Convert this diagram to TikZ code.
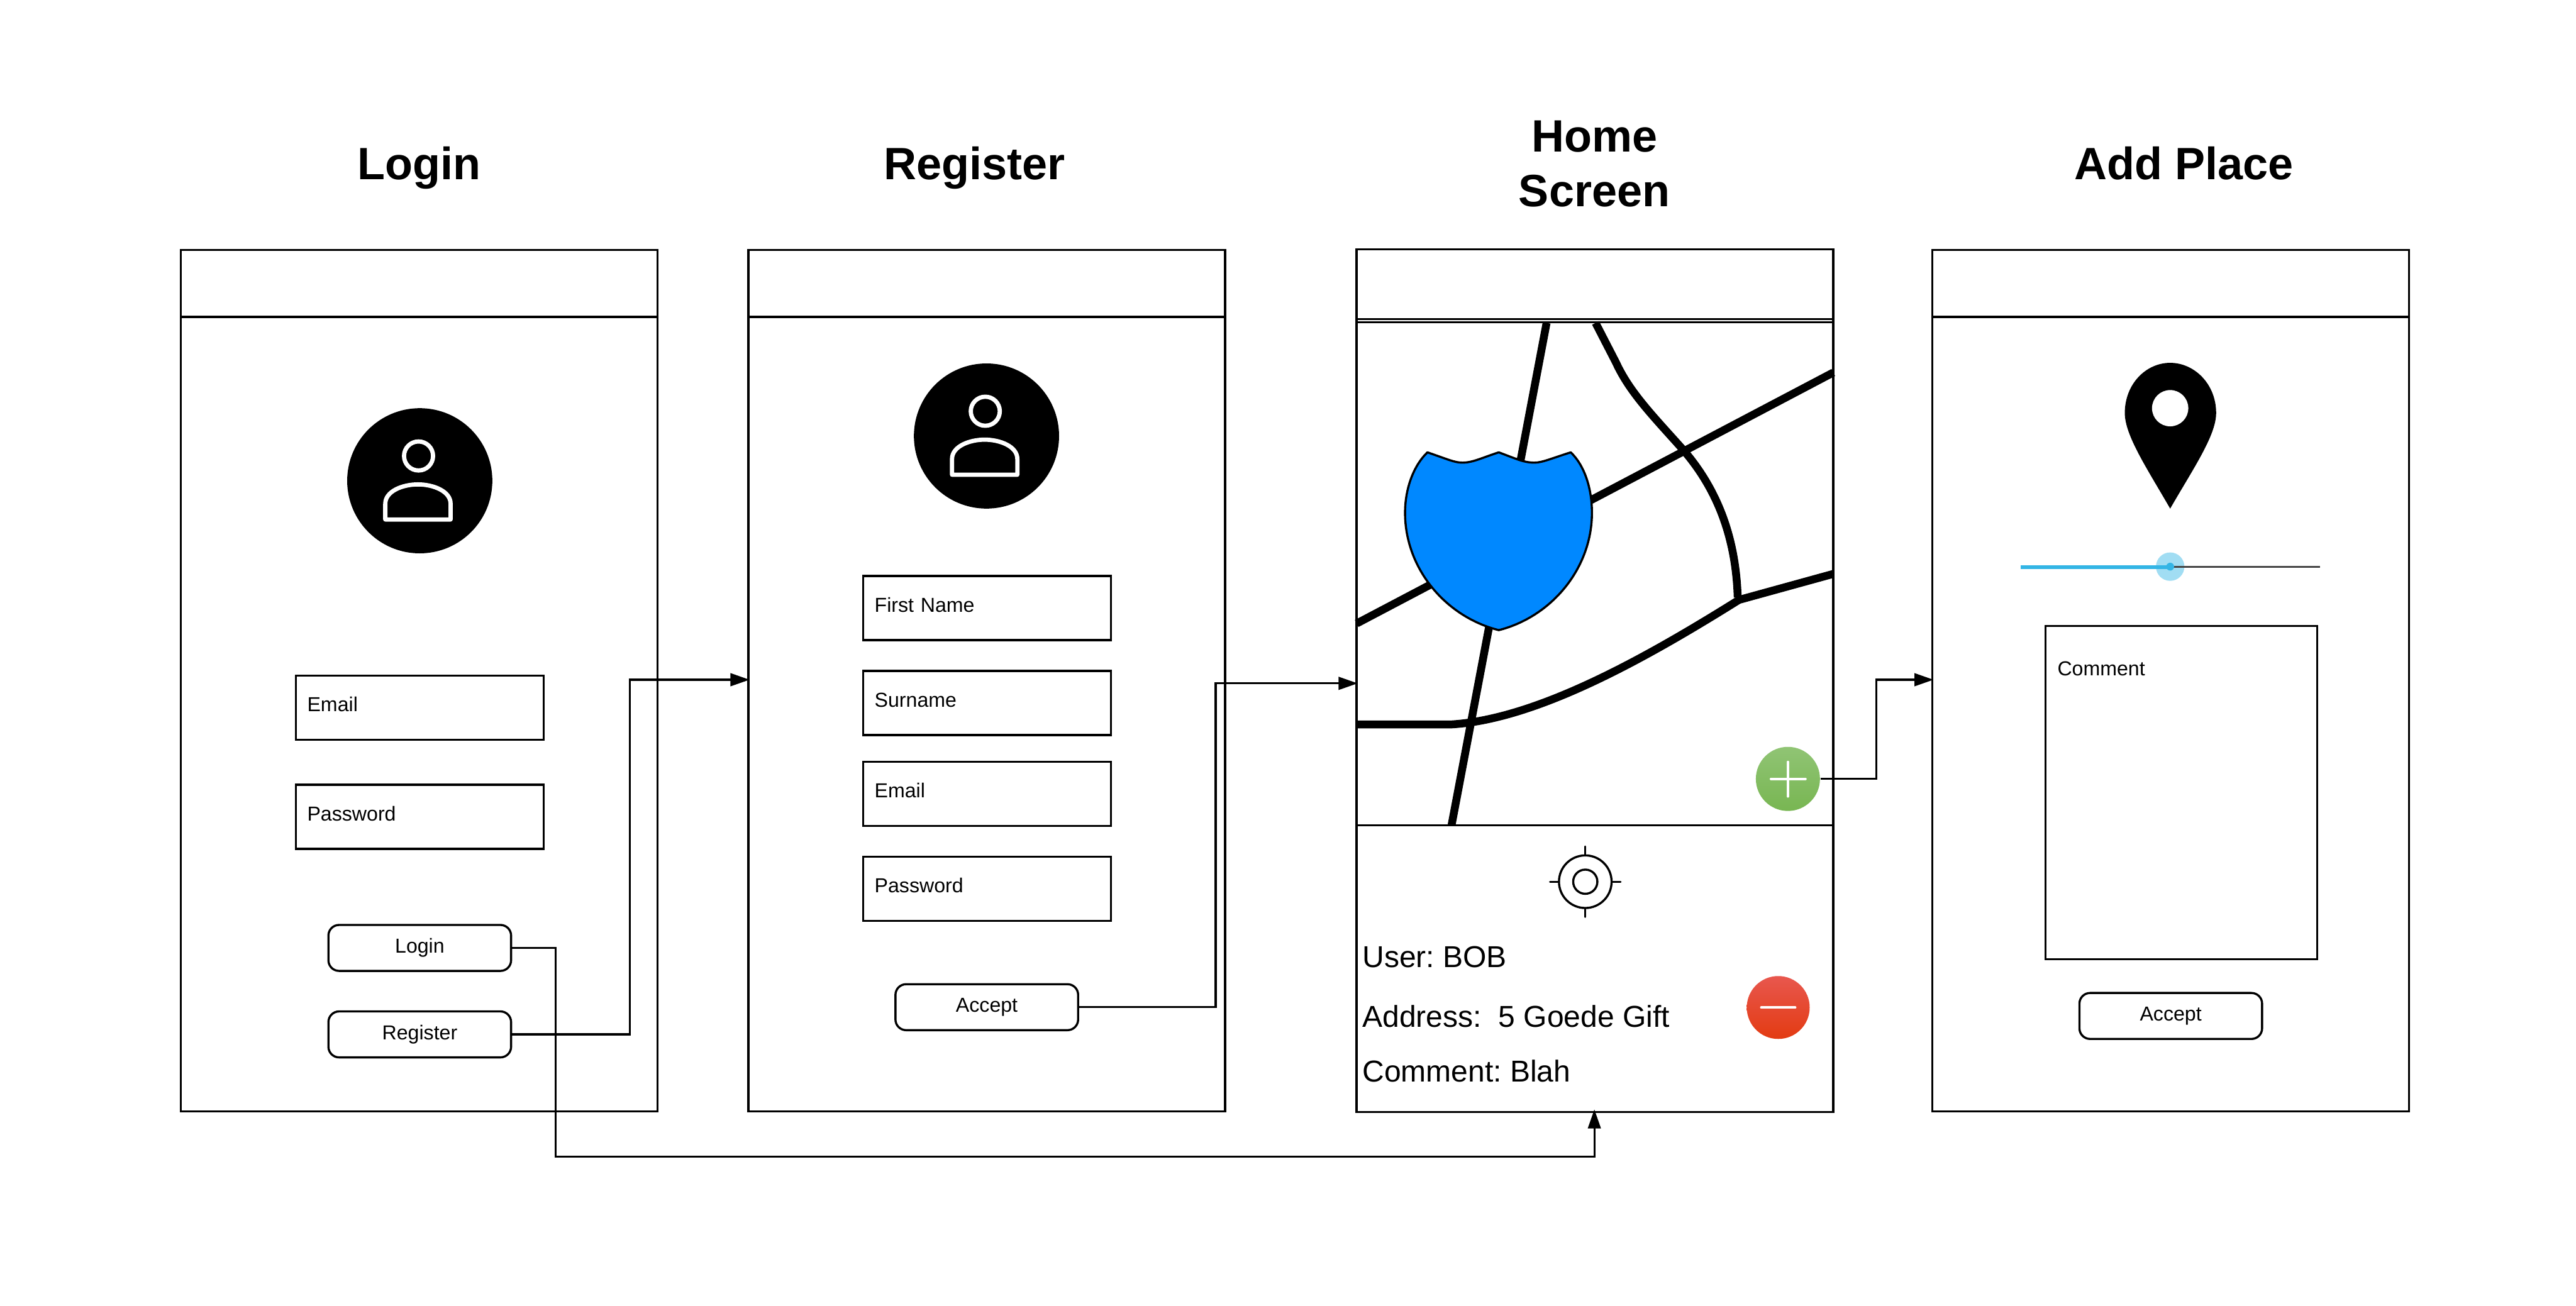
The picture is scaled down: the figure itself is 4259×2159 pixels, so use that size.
\documentclass[tikz,border=0pt]{standalone}
\usepackage{fontspec}
\setmainfont{Liberation Sans}
\usetikzlibrary{arrows.meta,shapes.geometric}
\def\pxu{0.01cm}
\frenchspacing
\newcommand\fldtext[1]{\raisebox{-1.85pt}[0pt][0pt]{#1}}
\tikzset{
  px/.style={x=0.01cm,y=-0.01cm},
  panel/.style={draw=black,line width=1pt,fill=white,inner sep=0pt,minimum width=788*\pxu},
  field/.style={draw=black,line width=1pt,fill=white,inner sep=0pt,inner xsep=19*\pxu,minimum width=410*\pxu,minimum height=106*\pxu,text width=372*\pxu,align=left,font=\fontsize{9.5}{11}\selectfont},
  btn/.style={draw=black,line width=1pt,fill=white,rounded corners=5pt,inner sep=0pt,minimum width=302*\pxu,minimum height=76*\pxu,font=\fontsize{9.5}{11}\selectfont},
  title/.style={font=\fontsize{21.3}{25.6}\selectfont\bfseries,align=center,inner sep=0pt},
  infotext/.style={font=\fontsize{14.2}{17}\selectfont,anchor=west,inner sep=0pt},
  road/.style={draw=black,line width=3.7pt},
  link/.style={draw=black,line width=0.95pt},
  arrowlink/.style={link,shorten >=-1pt,-{Triangle[length=9pt,width=6pt]}},
  avatar/.style={circle,fill=black,inner sep=0pt,minimum size=240*\pxu},
  whiteline/.style={draw=white,line width=2pt},
  plusbtn/.style={circle,inner sep=0pt,minimum size=106*\pxu,top color=plustop,bottom color=plusbot,draw=none},
  minusbtn/.style={circle,inner sep=0pt,minimum size=104*\pxu,top color=minustop,bottom color=minusbot,draw=none},
  iconline/.style={draw=white,line width=1.2pt,line cap=round},
  tick/.style={draw=black,line width=1pt,line cap=round},
}
\definecolor{plustop}{HTML}{90C474}
\definecolor{plusbot}{HTML}{78B652}
\definecolor{minustop}{HTML}{E8574E}
\definecolor{minusbot}{HTML}{E33B12}
\definecolor{shieldblue}{HTML}{0088FF}
\definecolor{sliderblue}{HTML}{33B5E5}
\definecolor{sliderhalo}{HTML}{A1DDF3}
\definecolor{slidergrey}{HTML}{464646}
\newcommand\personicon[2]{%
  \begin{scope}[shift={(#1,#2)}]
    \draw[whiteline] (-2,-41) circle[radius=24];
    \draw[whiteline,line join=round] (-57,64) -- (-57,38) .. controls (-57,17) and (-28,6) .. (-3,6) .. controls (22,6) and (51,17) .. (51,38) -- (51,64) -- cycle;
  \end{scope}}
\begin{document}
\begin{tikzpicture}[px]
\useasboundingbox (0,0) rectangle (4259,2159);
% titles
\node[title,anchor=base] (tLogin) at (693,297) {Login};
\node[title,anchor=base] (tRegister) at (1611,297) {Register};
\node[title] (tHome) at (2636,271) {Home\\Screen};
\node[title,anchor=base] (tAdd) at (3611,297) {Add Place};
% login panel
\node[panel,minimum height=111*\pxu] (loginHead) at (693,468.5) {};
\node[panel,minimum height=1314*\pxu] (loginBody) at (693,1181) {};
\node[avatar] (loginAvatar) at (694,795) {};
\personicon{694}{795}
\node[field] (loginEmail) at (694,1170.5) {\fldtext{Email}};
\node[field] (loginPass) at (694,1350.5) {\fldtext{Password}};
\node[btn] (btnLogin) at (694,1567.5) {Login\\[1pt]};
\node[btn] (btnRegister) at (694,1710.5) {Register\\[1pt]};
% register panel
\node[panel,minimum height=111*\pxu] (regHead) at (1631.5,468.5) {};
\node[panel,minimum height=1314*\pxu] (regBody) at (1631.5,1181) {};
\node[avatar] (regAvatar) at (1631,721) {};
\personicon{1631}{721}
\node[field] (regFirst) at (1632,1005.5) {\fldtext{First Name}};
\node[field] (regSur) at (1632,1162.5) {\fldtext{Surname}};
\node[field] (regEmail) at (1632,1312.5) {\fldtext{Email}};
\node[field] (regPass) at (1632,1469.5) {\fldtext{Password}};
\node[btn] (btnAccept) at (1631.5,1665.5) {Accept\\[3pt]};
% home panel
\node[panel,minimum height=1427*\pxu] (homeBody) at (2637,1125.5) {};
\draw[draw=black,line width=1pt] (homeBody.west |- 0,527.5) -- (homeBody.east |- 0,527.5);
\draw[draw=black,line width=1pt] (homeBody.west |- 0,533) -- (homeBody.east |- 0,533);
\draw[road] (2557,534) -- (2400,1364);
\draw[road] (2243,1031) -- (3031,616);
\draw[road] (2638,534) -- (2672,600) .. controls (2695,650) and (2735,690) .. (2783,744) .. controls (2840,810) and (2870,890) .. (2873,988);
\draw[road] (2243,1198) -- (2398,1198) .. controls (2540,1190) and (2720,1089) .. (2875,992) -- (3031,949);
\draw[draw=black,line width=1pt] (homeBody.west |- 0,1364.5) -- (homeBody.east |- 0,1364.5);
\draw[draw=black,line width=1pt,fill=shieldblue,line join=round]
  (2360,748) .. controls (2395,760) and (2405,765) .. (2418,765)
  .. controls (2435,765) and (2450,757) .. (2478,748)
  .. controls (2510,760) and (2520,765) .. (2537,765)
  .. controls (2550,765) and (2565,758) .. (2597,748)
  .. controls (2620,770) and (2632,808) .. (2632,848)
  .. controls (2632,940) and (2565,1020) .. (2478,1042)
  .. controls (2390,1020) and (2323,940) .. (2323,848)
  .. controls (2323,808) and (2337,770) .. (2360,748) -- cycle;
\node[plusbtn] (plus) at (2956,1288) {};
\draw[iconline] (2928,1288) -- (2985,1288);
\draw[iconline] (2956,1260) -- (2956,1317);
\node[circle,draw=black,line width=1pt,inner sep=0pt,minimum size=87*\pxu] (targetOuter) at (2621,1458) {};
\node[circle,draw=black,line width=1pt,inner sep=0pt,minimum size=40*\pxu] (targetInner) at (2621,1458) {};
\draw[tick] (targetOuter.north) -- ++(0,-13);
\draw[tick] (targetOuter.south) -- ++(0,13);
\draw[tick] (targetOuter.west) -- ++(-13,0);
\draw[tick] (targetOuter.east) -- ++(13,0);
\node[infotext] (infoUser) at (2252,1583) {User: BOB};
\node[infotext] (infoAddr) at (2252,1681) {Address:\ \ 5 Goede Gift};
\node[infotext] (infoComment) at (2252,1771) {Comment: Blah};
\node[minusbtn] (minus) at (2940,1666) {};
\draw[iconline] (2912,1666) -- (2968,1666);
% add panel
\node[panel,minimum height=111*\pxu] (addHead) at (3589,468.5) {};
\node[panel,minimum height=1314*\pxu] (addBody) at (3589,1181) {};
\fill[black] (3588,841) .. controls (3550,775) and (3513,720) .. (3513,683) .. controls (3513,635) and (3548,600) .. (3588,600) .. controls (3628,600) and (3664,635) .. (3664,683) .. controls (3664,720) and (3626,775) .. (3588,841) -- cycle;
\fill[white] (3588,675) circle[radius=30];
\draw[draw=slidergrey,line width=0.85pt] (3588,937) -- (3836,937);
\node[circle,fill=sliderhalo,inner sep=0pt,minimum size=47*\pxu] (knobHalo) at (3588,937) {};
\draw[draw=sliderblue,line width=1.7pt] (3341,938) -- (3588,938);
\draw[draw=slidergrey,line width=0.85pt] (3594,937) -- (knobHalo.east);
\node[circle,fill=sliderblue,inner sep=0pt,minimum size=13*\pxu] (knob) at (3588,937) {};
\node[draw=black,line width=1pt,inner sep=0pt,minimum width=449*\pxu,minimum height=551*\pxu] (commentBox) at (3606.5,1310.5) {};
\node[font=\fontsize{9.5}{11}\selectfont,anchor=west,inner sep=0pt] (commentText) at (3401,1106) {Comment};
\node[btn] (btnAccept2) at (3589,1680) {Accept\\[3pt]};
% connectors
\coordinate (regIn) at (regBody.west |- 0,1124);
\coordinate (homeIn) at (homeBody.west |- 0,1130);
\coordinate (addIn) at (addBody.west |- 0,1124);
\coordinate (bendA) at (1041,1124);
\coordinate (bendB) at (2010,1130);
\coordinate (bendC) at (3102,1124);
\coordinate (bendD) at (919,1913);
\coordinate (homeBot) at (2636,1838);
\draw[arrowlink] (btnRegister.east) -| (bendA) -- (regIn);
\draw[arrowlink] (btnLogin.east) -| (bendD) -| (homeBot);
\draw[arrowlink] (btnAccept.east) -| (bendB) -- (homeIn);
\draw[arrowlink] (plus.east) -| (bendC) -- (addIn);
\end{tikzpicture}
\end{document}
